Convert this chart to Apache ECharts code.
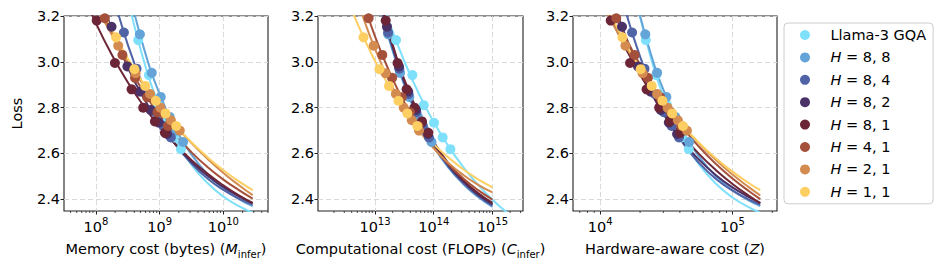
<!DOCTYPE html>
<html><head><meta charset="utf-8">
<script src="https://cdn.jsdelivr.net/npm/echarts@6/dist/echarts.min.js"></script>
<style>html,body{margin:0;padding:0;background:#fff}#c{width:946px;height:270px}</style>
</head><body><div id="c"></div>
<script>
// ---------- series ----------
const seriesNames = ['Llama-3 GQA','H=8,8','H=8,4','H=8,2','H=8,1','H=4,1','H=2,1','H=1,1'];
const seriesColors = ['#7fe0fb','#64a4d8','#4f63a6','#4a3166','#6c2537','#a4503a','#d48b4f','#fdcf62'];

// loss of each measured model (same models in all three panels)
const loss_llama = [3.095, 2.942, 2.811, 2.734, 2.670, 2.619];
const loss_h88   = [3.12, 2.952, 2.847, 2.76, 2.70, 2.65];
const loss_h84   = [3.128, 2.97, 2.86, 2.78, 2.72, 2.67];
const loss_h82   = [3.153, 2.98, 2.87, 2.79, 2.735, 2.685];
const loss_h81   = [3.18, 2.995, 2.88, 2.80, 2.74, 2.69];
const loss_h41   = [3.19, 3.03, 2.93, 2.845, 2.78, 2.72];
const loss_h21   = [3.07, 2.95, 2.86, 2.80, 2.745, 2.70];
const loss_h11   = [3.107, 2.968, 2.895, 2.83, 2.775, 2.72];

// ---- panel 1: memory cost (bytes) ----
const mem_llama = [4.61e8, 6.79e8, 9.40e8, 1.26e9, 1.68e9, 2.16e9];
const mem_h88   = [4.9e8, 7.52e8, 1.04e9, 1.43e9, 1.84e9, 2.33e9];
const mem_h84   = [2.75e8, 4.34e8, 6.31e8, 8.71e8, 1.15e9, 1.50e9];
const mem_h82   = [1.76e8, 3.12e8, 4.92e8, 7.23e8, 9.72e8, 1.31e9];
const mem_h81   = [1.03e8, 1.99e8, 3.63e8, 5.53e8, 8.43e8, 1.21e9];
const mem_h41   = [1.38e8, 2.61e8, 4.11e8, 6.37e8, 9.25e8, 1.35e9];
const mem_h21   = [2.24e8, 4.2e8, 7.08e8, 1.03e9, 1.50e9, 2.07e9];
const mem_h11   = [2.07e8, 4.01e8, 5.94e8, 8.71e8, 1.24e9, 1.82e9];
// fitted curves (loss read at these memory values)
const fitx_mem = [5.623e7, 1e8, 1.778e8, 3.162e8, 5.623e8, 1e9, 1.778e9, 3.162e9, 5.623e9, 1e10, 1.778e10, 2.884e10];
const fit_mem_llama = [null, null, null, 3.279, 3.006, 2.806, 2.659, 2.550, 2.471, 2.412, 2.369, 2.342];
const fit_mem_h88   = [null, null, null, 3.334, 3.062, 2.859, 2.708, 2.595, 2.510, 2.447, 2.400, 2.370];
const fit_mem_h84   = [null, null, 3.314, 3.075, 2.891, 2.750, 2.640, 2.556, 2.491, 2.441, 2.402, 2.377];
const fit_mem_h82   = [null, 3.343, 3.142, 2.976, 2.841, 2.730, 2.639, 2.564, 2.503, 2.453, 2.412, 2.383];
const fit_mem_h81   = [3.327, 3.169, 3.031, 2.911, 2.807, 2.717, 2.639, 2.571, 2.512, 2.461, 2.416, 2.384];
const fit_mem_h41   = [null, 3.283, 3.124, 2.986, 2.868, 2.767, 2.680, 2.605, 2.541, 2.486, 2.439, 2.403];
const fit_mem_h21   = [null, 3.246, 3.118, 3.002, 2.898, 2.805, 2.721, 2.645, 2.577, 2.515, 2.460, 2.418];
const fit_mem_h11   = [null, 3.286, 3.142, 3.015, 2.905, 2.808, 2.723, 2.649, 2.584, 2.527, 2.477, 2.440];

// ---- panel 2: computational cost (FLOPs) ----
const flops_llama = [2.28e13, 4.33e13, 6.76e13, 1.01e14, 1.42e14, 1.92e14];
const flops_h88   = [1.68e13, 2.67e13, 3.83e13, 5.36e13, 7.10e13, 9.16e13];
const flops_h84   = [1.67e13, 2.59e13, 3.72e13, 5.05e13, 6.53e13, 8.30e13];
const flops_h82   = [1.60e13, 2.56e13, 3.67e13, 4.98e13, 6.30e13, 7.98e13];
const flops_h81   = [1.52e13, 2.42e13, 3.45e13, 4.70e13, 6.30e13, 8.09e13];
const flops_h41   = [7.78e12, 1.33e13, 1.96e13, 2.85e13, 3.94e13, 5.48e13];
const flops_h21   = [9.5e12, 1.51e13, 2.27e13, 3.09e13, 4.23e13, 5.62e13];
const flops_h11   = [6.37e12, 1.19e13, 1.73e13, 2.51e13, 3.56e13, 5.25e13];
const fitx_flops = [3.162e12, 5.623e12, 1e13, 1.778e13, 3.162e13, 5.623e13, 1e14, 1.778e14, 3.162e14, 5.623e14, 1e15, 1.778e15];
const fit_flops_llama = [null, null, 3.363, 3.168, 3.002, 2.859, 2.737, 2.632, 2.542, 2.465, 2.398, 2.342];
const fit_flops_h88   = [null, null, 3.340, 3.090, 2.898, 2.747, 2.630, 2.538, 2.467, 2.411, 2.367, null];
const fit_flops_h84   = [null, null, 3.350, 3.100, 2.906, 2.754, 2.636, 2.543, 2.472, 2.416, 2.372, null];
const fit_flops_h82   = [null, null, 3.360, 3.110, 2.914, 2.761, 2.642, 2.549, 2.478, 2.421, 2.378, null];
const fit_flops_h81   = [null, null, 3.371, 3.118, 2.922, 2.769, 2.650, 2.557, 2.485, 2.428, 2.384, null];
const fit_flops_h41   = [null, 3.302, 3.111, 2.954, 2.823, 2.716, 2.626, 2.553, 2.492, 2.441, 2.399, null];
const fit_flops_h21   = [3.446, 3.231, 3.056, 2.913, 2.796, 2.700, 2.622, 2.559, 2.507, 2.464, 2.430, null];
const fit_flops_h11   = [3.295, 3.138, 3.004, 2.890, 2.793, 2.711, 2.641, 2.582, 2.531, 2.488, 2.452, null];

// ---- panel 3: hardware-aware cost (Z) ----
const hw_llama = [2.21e4, 2.65e4, 3.20e4, 3.66e4, 4.15e4, 4.67e4];
const hw_h88   = [2.19e4, 2.69e4, 3.16e4, 3.69e4, 4.18e4, 4.70e4];
const hw_h84   = [1.74e4, 2.16e4, 2.59e4, 3.03e4, 3.47e4, 3.94e4];
const hw_h82   = [1.46e4, 1.93e4, 2.40e4, 2.87e4, 3.30e4, 3.81e4];
const hw_h81   = [1.20e4, 1.68e4, 2.24e4, 2.79e4, 3.36e4, 4.03e4];
const hw_h41   = [1.32e4, 1.82e4, 2.29e4, 2.84e4, 3.41e4, 4.09e4];
const hw_h21   = [1.55e4, 2.09e4, 2.69e4, 3.23e4, 3.86e4, 4.52e4];
const hw_h11   = [1.47e4, 2.02e4, 2.45e4, 2.95e4, 3.50e4, 4.22e4];
const fitx_hw = [1e4, 1.334e4, 1.778e4, 2.371e4, 3.162e4, 4.217e4, 5.623e4, 7.499e4, 1e5, 1.334e5, 1.622e5];
const fit_hw_llama = [null, null, 3.328, 3.033, 2.818, 2.663, 2.550, 2.468, 2.408, 2.365, 2.342];
const fit_hw_h88   = [null, null, 3.321, 3.049, 2.846, 2.696, 2.584, 2.501, 2.440, 2.394, 2.370];
const fit_hw_h84   = [null, 3.369, 3.110, 2.912, 2.760, 2.645, 2.557, 2.489, 2.438, 2.399, 2.377];
const fit_hw_h82   = [3.448, 3.216, 3.028, 2.875, 2.752, 2.652, 2.571, 2.505, 2.452, 2.409, 2.384];
const fit_hw_h81   = [3.298, 3.136, 2.996, 2.874, 2.768, 2.676, 2.596, 2.527, 2.467, 2.415, 2.383];
const fit_hw_h41   = [3.348, 3.184, 3.041, 2.916, 2.806, 2.711, 2.627, 2.554, 2.491, 2.435, 2.401];
const fit_hw_h21   = [3.268, 3.134, 3.013, 2.904, 2.807, 2.720, 2.642, 2.571, 2.508, 2.452, 2.417];
const fit_hw_h11   = [3.302, 3.152, 3.021, 2.907, 2.807, 2.720, 2.645, 2.578, 2.521, 2.470, 2.440];

// ---- axes ----
const yTicks = [2.4, 2.6, 2.8, 3.0, 3.2];
const yMin = 2.349, yMax = 3.2;
const xTicks1 = [1e8, 1e9, 1e10];
const xTicks2 = [1e13, 1e14, 1e15];
const xTicks3 = [1e4, 1e5];
const xRange1 = [3.16e7, 5.01e10];
const xRange2 = [1.07e12, 3.31e15];
const xRange3 = [6.22e3, 2.17e5];

// ---------- build ----------
const losses = [loss_llama, loss_h88, loss_h84, loss_h82, loss_h81, loss_h41, loss_h21, loss_h11];
const panels = [
  {xs:[mem_llama,mem_h88,mem_h84,mem_h82,mem_h81,mem_h41,mem_h21,mem_h11], fitx: fitx_mem,
   fits:[fit_mem_llama,fit_mem_h88,fit_mem_h84,fit_mem_h82,fit_mem_h81,fit_mem_h41,fit_mem_h21,fit_mem_h11]},
  {xs:[flops_llama,flops_h88,flops_h84,flops_h82,flops_h81,flops_h41,flops_h21,flops_h11], fitx: fitx_flops,
   fits:[fit_flops_llama,fit_flops_h88,fit_flops_h84,fit_flops_h82,fit_flops_h81,fit_flops_h41,fit_flops_h21,fit_flops_h11]},
  {xs:[hw_llama,hw_h88,hw_h84,hw_h82,hw_h81,hw_h41,hw_h21,hw_h11], fitx: fitx_hw,
   fits:[fit_hw_llama,fit_hw_h88,fit_hw_h84,fit_hw_h82,fit_hw_h81,fit_hw_h41,fit_hw_h21,fit_hw_h11]}
];
const FONT = 'DejaVu Sans';
const FS = 14.5;
const gridLefts = [64, 318, 573];
const gridWidths = [204, 205, 204];
const xRanges = [xRange1, xRange2, xRange3];
const xTickSets = [xTicks1, xTicks2, xTicks3];
const xNames = [
  '{n|Memory cost (bytes) (}{i|M}{sub|infer}{n|)}',
  '{n|Computational cost (FLOPs) (}{i|C}{sub|infer}{n|)}',
  '{n|Hardware-aware cost (}{i|Z}{n|)}'
];
const richName = {
  n: {fontFamily: FONT, fontSize: FS, color: '#000', lineHeight: 20, verticalAlign: 'middle'},
  i: {fontFamily: FONT, fontSize: FS, fontStyle: 'italic', color: '#000', lineHeight: 20, verticalAlign: 'middle'},
  sub: {fontFamily: FONT, fontSize: 10, color: '#000', lineHeight: 20, verticalAlign: 'bottom'}
};
const richTick = {
  b: {fontFamily: FONT, fontSize: FS, color: '#000', lineHeight: 18, verticalAlign: 'bottom'},
  s: {fontFamily: FONT, fontSize: 10, color: '#000', lineHeight: 18, verticalAlign: 'top'}
};
const gridLineStyle = {color: '#d9d9d9', width: 1, type: [5, 3]};

const grids = [], xAxes = [], yAxes = [], series = [];
for (let p = 0; p < 3; p++) {
  grids.push({left: gridLefts[p], width: gridWidths[p], top: 16, height: 195, show: true,
    borderColor: '#222', borderWidth: 1.1, backgroundColor: 'transparent'});
  xAxes.push({type: 'log', logBase: 10, gridIndex: p, min: xRanges[p][0], max: xRanges[p][1],
    name: xNames[p], nameLocation: 'middle', nameGap: 28,
    nameTextStyle: {rich: richName},
    axisLine: {show: false},
    axisTick: {show: true, inside: false, length: 3.5, lineStyle: {color: '#222', width: 1}, customValues: xTickSets[p]},
    axisLabel: {show: true, margin: 5, customValues: xTickSets[p],
      formatter: v => '{b|10}{s|' + Math.round(Math.log10(v)) + '}', rich: richTick},
    splitLine: {show: true, lineStyle: gridLineStyle}, minorTick: {show: false}});
  yAxes.push({type: 'value', gridIndex: p, min: yMin, max: yMax,
    name: p === 0 ? 'Loss' : '', nameLocation: 'middle', nameGap: 40, nameRotate: 90,
    nameTextStyle: {fontFamily: FONT, fontSize: FS, color: '#000'},
    axisLine: {show: false},
    axisTick: {show: true, inside: false, length: 3.5, lineStyle: {color: '#222', width: 1}, customValues: yTicks},
    axisLabel: {show: true, margin: 4, customValues: yTicks, fontFamily: FONT, fontSize: FS, color: '#000',
      formatter: v => v.toFixed(1)},
    splitLine: {show: true, lineStyle: gridLineStyle}});

  const P = panels[p];
  for (let s = 0; s < seriesNames.length; s++) {
    const dots = P.xs[s].map((x, i) => [x, losses[s][i]]);
    const curve = [];
    P.fits[s].forEach((l, i) => { if (l !== null) curve.push([P.fitx[i], l]); });
    series.push({type: 'line', name: seriesNames[s], xAxisIndex: p, yAxisIndex: p, data: curve,
      showSymbol: false, smooth: 0.5, clip: true,
      lineStyle: {color: seriesColors[s], width: 2}, itemStyle: {color: seriesColors[s]}, z: 2});
    series.push({type: 'scatter', name: seriesNames[s], xAxisIndex: p, yAxisIndex: p, data: dots,
      symbol: 'circle', symbolSize: 10, clip: true,
      itemStyle: {color: seriesColors[s], opacity: 1}, z: 2});
  }
  // minor ticks on the log axis (2..9 x 10^k)
  const minor = [];
  const lo = Math.floor(Math.log10(xRanges[p][0])), hi = Math.ceil(Math.log10(xRanges[p][1]));
  for (let d = lo; d <= hi; d++) for (let k = 2; k <= 9; k++) {
    const v = k * Math.pow(10, d);
    if (v > xRanges[p][0] && v < xRanges[p][1]) minor.push([v, yMin]);
  }
  series.push({type: 'custom', xAxisIndex: p, yAxisIndex: p, data: minor, clip: false, silent: true, z: 5,
    renderItem: (params, api) => {
      const pt = api.coord([api.value(0), api.value(1)]);
      return {type: 'line', shape: {x1: pt[0], y1: pt[1], x2: pt[0], y2: pt[1] + 2},
        style: {stroke: '#222', lineWidth: 0.8}};
    }});
}

const chart = echarts.init(document.getElementById('c'), null, {renderer: 'svg', width: 946, height: 270});
chart.setOption({
  animation: false,
  backgroundColor: '#fff',
  textStyle: {fontFamily: FONT},
  grid: grids, xAxis: xAxes, yAxis: yAxes, series: series,
  legend: {
    data: seriesNames.map(n => ({name: n, icon: 'circle'})),
    orient: 'vertical', left: 784, top: 23,
    itemWidth: 41, itemHeight: 10, itemGap: 6.4,
    padding: [4, 7, 4, 16],
    borderColor: '#cccccc', borderWidth: 1, borderRadius: 4, backgroundColor: '#fff',
    textStyle: {fontFamily: FONT, fontSize: FS, color: '#000', lineHeight: 16,
      rich: {i: {fontFamily: FONT, fontSize: FS, fontStyle: 'italic', color: '#000', lineHeight: 16}}},
    formatter: n => n.startsWith('H=') ? '{i|H}' + ' = ' + n.slice(2).replace(',', ', ') : n,
    selectedMode: false
  }
});
</script></body></html>
